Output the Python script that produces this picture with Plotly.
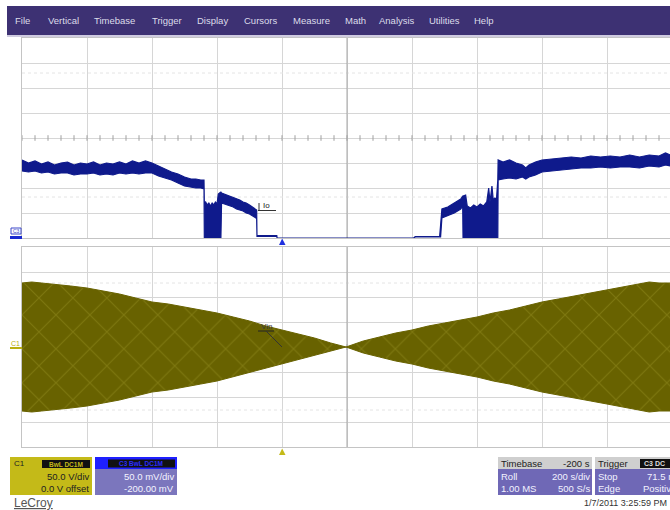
import plotly.graph_objects as go

W, H = 670, 510
def X(px): return px / W
def Y(py): return 1 - py / H

# ---------------- data ----------------
# Io (C3) noisy band, time in s, signal in mV (upper / lower edge of band)
io_t = [-800, -780, -760, -740, -720, -700, -680, -660, -640, -620, -600, -580, -560, -540, -520,
        -500, -480, -460, -440, -420, -400, -380, -360, -340, -320, -300, -280, -265, -250, -240,
        -239, -235, -230, -225, -220, -215, -210, -205, -200, -196, -192, -188,
        -186, -170, -160, -150, -140, -130, -120, -110, -100, -90, -80, -78,
        -77, -16, -15, 405, 410, 485, 488, 492, 510, 530, 550, 556,
        557, 565, 570, 580, 590, 600, 610, 620, 630, 636, 640, 646, 650, 655, 660, 664,
        665, 680, 700, 720, 740, 750, 760, 780, 800, 830, 860, 890, 920, 950, 980, 1010,
        1040, 1070, 1100, 1130, 1160, 1180, 1194, 1220]
io_hi = [156, 150, 154, 148, 152, 146, 150, 152, 146, 150, 148, 152, 146, 150, 148,
         152, 148, 154, 150, 154, 150, 144, 138, 132, 128, 122, 118, 118, 116, 116,
         70, 72, 66, 70, 64, 70, 66, 72, 68, 88, 90, 92,
         90, 86, 84, 80, 78, 76, 72, 70, 66, 62, 58, 56,
         5, 5, 0, 0, 3, 3, 26, 58, 62, 70, 78, 84,
         84, 86, 64, 60, 66, 62, 68, 64, 72, 100, 72, 104, 76, 80, 78, 116,
         156, 152, 156, 150, 146, 140, 146, 152, 156, 158, 160, 162, 160, 164, 162, 164,
         162, 166, 162, 166, 164, 170, 166, 166]
io_lo = [134, 132, 134, 130, 132, 128, 130, 130, 126, 128, 128, 130, 126, 128, 126,
         130, 128, 130, 128, 130, 130, 124, 120, 116, 110, 104, 102, 100, 100, 98,
         0, 0, 0, 0, 0, 0, 0, 0, 0, 0, 0, 0,
         70, 66, 64, 62, 58, 56, 54, 50, 48, 44, 40, 38,
         3, 3, 0, 0, 2, 2, 2, 40, 44, 50, 58, 64,
         0, 0, 0, 0, 0, 0, 0, 0, 0, 0, 0, 0, 0, 0, 0, 0,
         116, 118, 120, 118, 122, 118, 122, 126, 132, 134, 136, 138, 140, 140, 142, 140,
         142, 142, 140, 144, 142, 146, 144, 144]

# Vin (C1) envelope amplitude in V
vin_t = [-800, -770, -740, -700, -650, -600, -550, -500, -450, -400, -350, -300, -250, -200,
         -150, -100, -50, 0, 50, 100, 150, 197, 250, 300, 350, 400, 450, 500, 550, 600,
         650, 700, 750, 800, 850, 900, 950, 1000, 1050, 1100, 1130, 1160, 1194, 1220]
vin_amp = [128, 130, 128, 126, 122, 118, 112, 106, 98, 90, 86, 80, 74, 68,
           60, 52, 42, 34, 26, 18, 8, 0, 12, 20, 28, 34, 42, 48, 54, 60,
           68, 74, 82, 90, 96, 102, 108, 114, 120, 126, 130, 128, 128, 128]

menu_items = ["File", "Vertical", "Timebase", "Trigger", "Display", "Cursors", "Measure",
              "Math", "Analysis", "Utilities", "Help"]

c1_texts = ["C1", "BwL DC1M", "50.0 V/div", "0.0 V offset"]
c3_texts = ["C3 BwL DC1M", "50.0 mV/div", "-200.00 mV"]
tb_texts = [("Timebase", "-200 s"), ("Roll", "200 s/div"), ("1.00 MS", "500 S/s")]
trig_texts = [("Trigger", "C3 DC"), ("Stop", "71.5 mV"), ("Edge", "Positive")]
date_text = "1/7/2011 3:25:59 PM"

# ---------------- styles ----------------
FONT = "Arial, Liberation Sans, sans-serif"
NAVY = "#0f1a8c"
OLIVE = "#686200"
OLIVE_L = "#948e20"
GRID = "#d6d6d6"
XMIN = -800
XMAX = -800 + (W - 22) / 65 * 200   # right edge of the figure

fig = go.Figure()

# faint ghost dotted rows
for yv in [330, 82]:
    fig.add_trace(go.Scatter(x=[XMIN, XMAX], y=[yv, yv], mode="lines", xaxis="x", yaxis="y",
                             line=dict(color="#e4e4e4", width=1, dash="dot"), hoverinfo="skip"))
for yv in [128, -126]:
    fig.add_trace(go.Scatter(x=[XMIN, XMAX], y=[yv, yv], mode="lines", xaxis="x2", yaxis="y2",
                             line=dict(color="#e4e4e4", width=1, dash="dot"), hoverinfo="skip"))

# darker centre vertical line
fig.add_trace(go.Scatter(x=[200, 200], y=[0, 400], mode="lines", xaxis="x", yaxis="y",
                         line=dict(color="#a6a6a6", width=1), hoverinfo="skip"))
fig.add_trace(go.Scatter(x=[200, 200], y=[-200, 200], mode="lines", xaxis="x2", yaxis="y2",
                         line=dict(color="#a6a6a6", width=1), hoverinfo="skip"))

# centre-line minor ticks (1/5 division)
tick_t = [XMIN + 40 * k for k in range(int((XMAX - XMIN) / 40) + 1)]
fig.add_trace(go.Scatter(x=tick_t, y=[200] * len(tick_t), mode="markers", xaxis="x", yaxis="y",
                         marker=dict(symbol="line-ns", size=4, line=dict(color="#a0a0a0", width=1)),
                         hoverinfo="skip"))
fig.add_trace(go.Scatter(x=tick_t, y=[0] * len(tick_t), mode="markers", xaxis="x2", yaxis="y2",
                         marker=dict(symbol="line-ns", size=4, line=dict(color="#a0a0a0", width=1)),
                         hoverinfo="skip"))

# Io band
fig.add_trace(go.Scatter(x=io_t + io_t[::-1], y=io_hi + io_lo[::-1], mode="lines",
                         xaxis="x", yaxis="y", fill="toself", fillcolor=NAVY,
                         line=dict(color=NAVY, width=1.2), hoverinfo="skip"))

# Vin envelope with aliasing crosshatch
fig.add_trace(go.Scatter(x=vin_t + vin_t[::-1], y=vin_amp + [-a for a in vin_amp[::-1]],
                         mode="lines", xaxis="x2", yaxis="y2", fill="toself", fillcolor=OLIVE,
                         fillpattern=dict(shape="x", bgcolor=OLIVE, fgcolor=OLIVE_L, size=24,
                                          solidity=0.09),
                         line=dict(color=OLIVE, width=1), hoverinfo="skip"))

ax_common = dict(showgrid=True, gridcolor=GRID, gridwidth=1, zeroline=False, showticklabels=False,
                 ticks="", showline=True, linecolor="#c4c4c4", linewidth=1, mirror=True)
fig.update_layout(
    width=W, height=H, autosize=False, margin=dict(l=0, r=0, t=0, b=0),
    paper_bgcolor="white", plot_bgcolor="white", showlegend=False,
    xaxis=dict(domain=[X(22), 1], range=[XMIN, XMAX], tick0=-800, dtick=200, anchor="y", **ax_common),
    yaxis=dict(domain=[Y(238), Y(38)], range=[0, 400], tick0=0, dtick=50, anchor="x", **ax_common),
    xaxis2=dict(domain=[X(22), 1], range=[XMIN, XMAX], tick0=-800, dtick=200, anchor="y2",
                matches="x", **ax_common),
    yaxis2=dict(domain=[Y(447), Y(247)], range=[-200, 200], tick0=-200, dtick=50, anchor="x2",
                **ax_common),
)

shapes = []
anns = []

def rect(x0, y0, x1, y1, color):
    shapes.append(dict(type="rect", xref="paper", yref="paper", x0=X(x0), x1=X(x1), y0=Y(y1), y1=Y(y0),
                       fillcolor=color, line=dict(width=0)))

def line(x0, y0, x1, y1, color, w=1):
    shapes.append(dict(type="line", xref="paper", yref="paper", x0=X(x0), x1=X(x1), y0=Y(y0), y1=Y(y1),
                       line=dict(color=color, width=w)))

def text(x, y, s, size=9, color="#222", anchor="left", bold=False):
    anns.append(dict(xref="paper", yref="paper", x=X(x), y=Y(y), text=("<b>%s</b>" % s) if bold else s,
                     showarrow=False, xanchor=anchor, yanchor="middle", borderpad=0,
                     font=dict(family=FONT, size=size, color=color)))

# menu bar
rect(7, 6, 690, 35, "#3d3173")
rect(7, 35, 690, 37, "#cfcbe0")
menu_x = [14, 47, 93, 151, 196, 243, 292, 344, 378, 428, 473]
for s, mx in zip(menu_items, menu_x):
    text(mx, 21, s, size=9.5, color="#dcdcea")

# channel markers on the left
shapes.append(dict(type="rect", xref="paper", yref="paper", x0=X(11), x1=X(21), y0=Y(234), y1=Y(228),
                   fillcolor="white", line=dict(color="#3a46c8", width=1)))
text(16, 231, "C3", size=5, color="#3a46c8", anchor="center")
rect(10, 236, 22, 239, "#1a2ad0")
text(15, 343, "C1", size=7, color="#b8ae10", anchor="center")
rect(10, 347, 22, 349, "#b8ae10")

# trigger triangles
shapes.append(dict(type="path", xref="paper", yref="paper",
                   path="M %f %f L %f %f L %f %f Z" % (X(279), Y(245), X(285.5), Y(245), X(282.2), Y(238.5)),
                   fillcolor="#2030e0", line=dict(width=0)))
shapes.append(dict(type="path", xref="paper", yref="paper",
                   path="M %f %f L %f %f L %f %f Z" % (X(279), Y(455), X(285.5), Y(455), X(282.2), Y(448.5)),
                   fillcolor="#c4ba18", line=dict(width=0)))

# trace labels
text(266, 205, "Io", size=8, color="#222", anchor="center")
line(258, 210.5, 276, 210.5, "#333", 1)
line(259, 203, 259, 210.5, "#333", 1)
text(266, 326, "Vin", size=8, color="#3a3a3a", anchor="center")
line(258, 331, 274, 331, "#222", 1)
line(266, 331, 282, 347, "#333", 1)

# C1 box
rect(10, 457, 92, 495, "#c4ba18")
text(13, 463.5, c1_texts[0], size=8, color="#222")
rect(42, 460, 90, 468, "#111111")
text(66, 464, c1_texts[1], size=6.5, color="#c4ba18", anchor="center", bold=True)
text(90, 476, c1_texts[2], size=9.5, color="#222", anchor="right")
text(90, 488.5, c1_texts[3], size=9.5, color="#222", anchor="right")

# C3 box
rect(95, 457, 177, 495, "#7b76bd")
rect(95, 457, 177, 469, "#1e20ff")
rect(108, 459.5, 175, 467.5, "#111111")
text(141, 463.5, c3_texts[0], size=6.5, color="#2a2cff", anchor="center", bold=True)
text(175, 476, c3_texts[1], size=9.5, color="#f4f4ff", anchor="right")
text(175, 488.5, c3_texts[2], size=9.5, color="#f4f4ff", anchor="right")

# LeCroy logo
text(13, 503, "<u>LeCroy</u>", size=12, color="#555555")

# Timebase box
rect(498, 457, 592, 495, "#6f68b6")
rect(498, 457, 592, 469, "#cfcfcf")
for i, (l, r) in enumerate(tb_texts):
    yy = [463, 476, 488.5][i]
    col = "#222" if i == 0 else "#f2f2ff"
    text(500, yy, l, size=9.5, color=col)
    text(591, yy, r, size=9.5, color=col, anchor="right")

# Trigger box
rect(595, 457, 690, 495, "#6f68b6")
rect(595, 457, 690, 469, "#cfcfcf")
rect(640, 459, 690, 468, "#111111")
text(597, 463, trig_texts[0][0], size=9.5, color="#222")
text(643, 463.5, trig_texts[0][1], size=7, color="#dddddd", bold=True)
text(597, 476, trig_texts[1][0], size=9.5, color="#f2f2ff")
text(684, 476, trig_texts[1][1], size=9.5, color="#f2f2ff", anchor="right")
text(597, 488.5, trig_texts[2][0], size=9.5, color="#f2f2ff")
text(677, 488.5, trig_texts[2][1], size=9.5, color="#f2f2ff", anchor="right")

# date
text(668, 503, date_text, size=9, color="#333", anchor="right")

fig.update_layout(shapes=shapes, annotations=anns)
fig.write_html("out.html", config={"displayModeBar": False},
               post_script="document.body.style.margin='0';")
